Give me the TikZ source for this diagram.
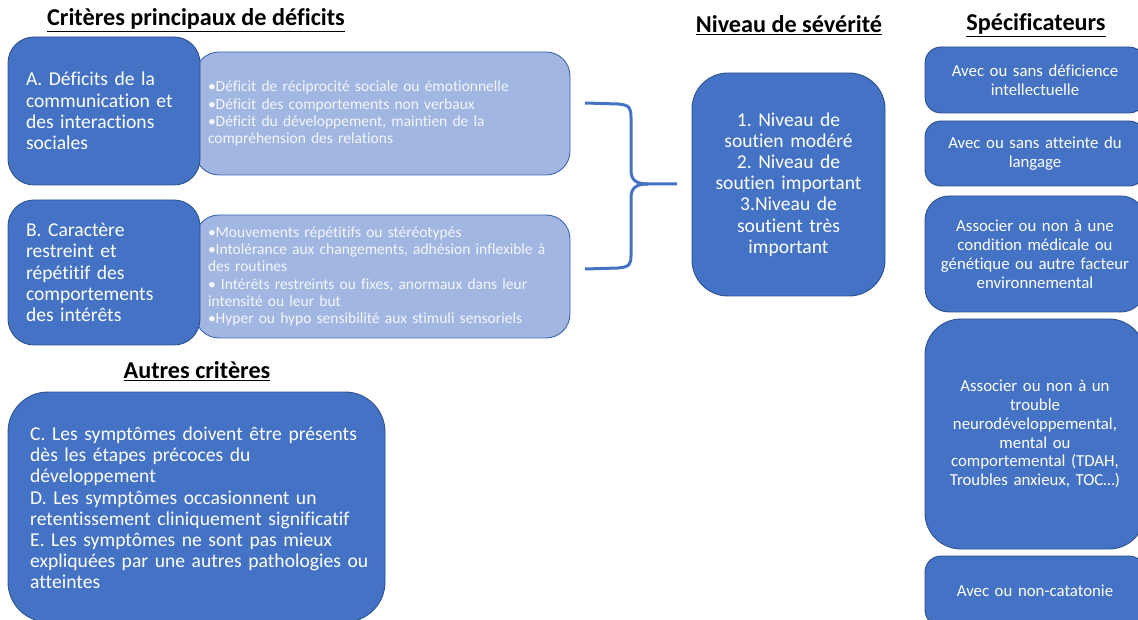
\documentclass[tikz,border=0pt]{standalone}
\usepackage{fontspec}
\setmainfont{Carlito}[Ligatures=NoCommon]
\definecolor{darkblue}{HTML}{4472C4}
\definecolor{darkline}{HTML}{2F528F}
\definecolor{lightblue}{HTML}{A1B6E0}
\definecolor{lightline}{HTML}{3D66B0}
\definecolor{lighttext}{HTML}{F4F6FC}
\frenchspacing
\begin{document}
\begin{tikzpicture}[x=1pt,y=-1pt,
  hdr/.style={font=\bfseries\fontsize{24.2}{28}\selectfont, text=black, inner sep=0pt},
  darkbox/.style={draw=darkline, fill=darkblue, line width=0.9pt, text=white, inner sep=0pt},
  lightbox/.style={draw=lightline, fill=lightblue, line width=0.9pt, text=lighttext, inner sep=0pt, rounded corners=24pt},
  bigtxt/.style={font=\fontsize{19.6}{21.2}\selectfont},
  smalltxt/.style={font=\fontsize{15.5}{17.2}\selectfont},
  spectxt/.style={font=\fontsize{16.8}{18.9}\selectfont},
  spec/.style={darkbox, spectxt, minimum width=220pt, text width=196pt, align=center},
  bracestyle/.style={draw=darkblue, line width=3pt}
]
\useasboundingbox (0,0) rectangle (1138,620);
\clip (0,0) rectangle (1138,620);

% headers
\node[hdr] (h1) at (196,20) {\underline{Critères principaux de déficits}};
\node[hdr] (h2) at (789,25) {\underline{Niveau de sévérité}};
\node[hdr] (h3) at (1036,25) {\underline{Spécificateurs}};
\node[hdr] (h4) at (197,371) {\underline{Autres critères}};

% criterion A
\node[lightbox, smalltxt, minimum width=375pt, minimum height=123pt, text width=349pt, align=left] (la) at (382.5,113.5)
 {•Déficit de réciprocité sociale ou émotionnelle\\
  •Déficit des comportements non verbaux\\
  •Déficit du développement, maintien de la\\
  compréhension des relations};
\node[darkbox, bigtxt, rounded corners=26pt, minimum width=192pt, minimum height=148pt, text width=156pt, align=left] (da) at (104,111)
 {A. Déficits de la\\ communication et\\ des interactions\\ sociales};

% criterion B
\node[lightbox, smalltxt, minimum width=375pt, minimum height=123pt, text width=349pt, align=left] (lb) at (382.5,276.5)
 {•Mouvements répétitifs ou stéréotypés\\
  •Intolérance aux changements, adhésion inflexible à\\
  des routines\\
  • Intérêts restreints ou fixes, anormaux dans leur\\
  intensité ou leur but\\
  •Hyper ou hypo sensibilité aux stimuli sensoriels};
\node[darkbox, bigtxt, rounded corners=26pt, minimum width=192pt, minimum height=145pt, text width=156pt, align=left] (db) at (104,272.5)
 {B. Caractère\\ restreint et\\ répétitif des\\ comportements\\ des intérêts};

% brace
\coordinate (bt) at (585,103);
\coordinate (bb) at (585,269);
\coordinate (tip) at (677,184);
\draw[bracestyle] (bt) -- (618,104) .. controls (630,105) and (631,108) .. (631,118) -- (631,170)
  .. controls (631,180) and (636,184) .. (648,184) -- (tip);
\draw[bracestyle] (bb) -- (618,268) .. controls (630,267) and (631,264) .. (631,255) -- (631,198)
  .. controls (631,188) and (636,184) .. (648,184);

% severity
\node[darkbox, bigtxt, rounded corners=36pt, minimum width=193pt, minimum height=223pt, text width=180pt, align=center] (sev) at (788.5,184.5)
 {1. Niveau de\\ soutien modéré\\ 2. Niveau de\\ soutien important\\ 3.Niveau de\\ soutient très\\ important};

% specifiers
\node[spec, rounded corners=16pt, minimum height=66pt] (s1) at (1035,80) {Avec ou sans déficience\\ intellectuelle};
\node[spec, rounded corners=16pt, minimum height=65pt] (s2) at (1035,153.5) {Avec ou sans atteinte du\\ langage};
\node[spec, rounded corners=24pt, minimum height=116pt] (s3) at (1035,254) {Associer ou non à une\\ condition médicale ou\\ génétique ou autre facteur\\ environnemental};
\node[spec, rounded corners=36pt, minimum height=230pt] (s4) at (1035,434) {Associer ou non à un\\ trouble\\ neurodéveloppemental,\\ mental ou\\ comportemental (TDAH,\\ Troubles anxieux, TOC…)};
\node[spec, rounded corners=16pt, minimum height=70pt] (s5) at (1035,591) {Avec ou non-catatonie};

% other criteria
\node[darkbox, rounded corners=40pt, minimum width=377pt, minimum height=230pt] (oc) at (196.5,507) {};
\node[bigtxt, text=white, inner sep=0pt, text width=345pt, align=left, anchor=west] (oct) at (30,508)
 {C. Les symptômes doivent être présents\\
  dès les étapes précoces du\\
  développement\\
  D. Les symptômes occasionnent un\\
  retentissement cliniquement significatif\\
  E. Les symptômes ne sont pas mieux\\
  expliquées par une autres pathologies ou\\
  atteintes};
\end{tikzpicture}
\end{document}
